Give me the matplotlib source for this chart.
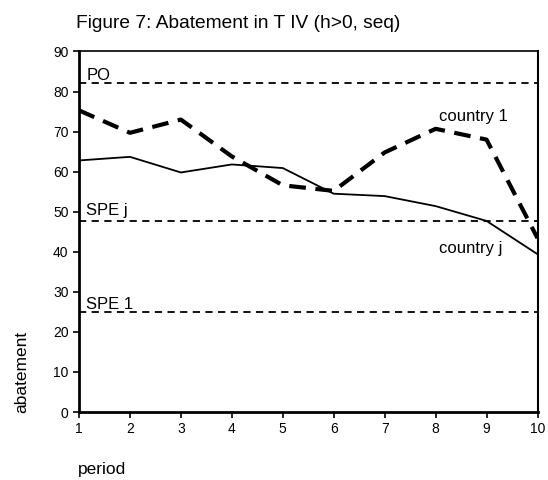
import matplotlib
matplotlib.use("Agg")
import matplotlib.pyplot as plt

plt.rcParams['font.family'] = ['Liberation Sans', 'DejaVu Sans']

# data
periods = [1, 2, 3, 4, 5, 6, 7, 8, 9, 10]
country_1 = [75.3, 69.7, 73.0, 63.8, 56.6, 55.2, 64.8, 70.7, 68.0, 43.4]
country_j = [62.8, 63.7, 59.8, 61.8, 60.9, 54.5, 53.9, 51.4, 47.7, 39.4]
po_level = 82.2
spe_j_level = 47.7
spe_1_level = 24.9

fig = plt.figure(figsize=(5.48, 4.8), dpi=100)
ax = fig.add_axes([79 / 548, 68 / 480, (537.5 - 79) / 548, (411.5 - 51) / 480])

# reference levels
for lvl in (po_level, spe_j_level, spe_1_level):
    ax.axhline(lvl, color='black', lw=1.3, linestyle=(0, (4, 3)))

ax.plot(periods, country_j, color='black', lw=1.3)
ax.plot(periods, country_1, color='black', lw=3, linestyle=(0, (4, 2.3)))

fs = 12
ax.text(1.14, po_level + 0.6, 'PO', fontsize=fs, va='baseline')
ax.text(1.14, spe_j_level + 1.4, 'SPE j', fontsize=fs, va='baseline')
ax.text(1.14, spe_1_level + 0.7, 'SPE 1', fontsize=fs, va='baseline')
ax.text(8.06, 72.6, 'country 1', fontsize=fs, va='baseline')
ax.text(8.06, 39.6, 'country j', fontsize=fs, va='baseline')

ax.set_xlim(1, 10)
ax.set_ylim(0, 90)
ax.set_xticks(periods)
ax.set_yticks(range(0, 91, 10))
ax.tick_params(labelsize=10, length=4.5, width=1.2, pad=3)

ax.spines['left'].set_linewidth(2)
ax.spines['bottom'].set_linewidth(2)
ax.spines['top'].set_linewidth(1.2)
ax.spines['right'].set_linewidth(1.5)

fig.text(238 / 548, 1 - 28 / 480, 'Figure 7: Abatement in T IV (h>0, seq)',
         fontsize=13.8, ha='center', va='baseline')
fig.text(21.7 / 548, 1 - 372 / 480, 'abatement', fontsize=12.5, rotation=90,
         ha='center', va='center')
fig.text(78 / 548, 1 - 474 / 480, 'period', fontsize=12.5, ha='left', va='baseline')

fig.savefig('out.png', dpi=100)
